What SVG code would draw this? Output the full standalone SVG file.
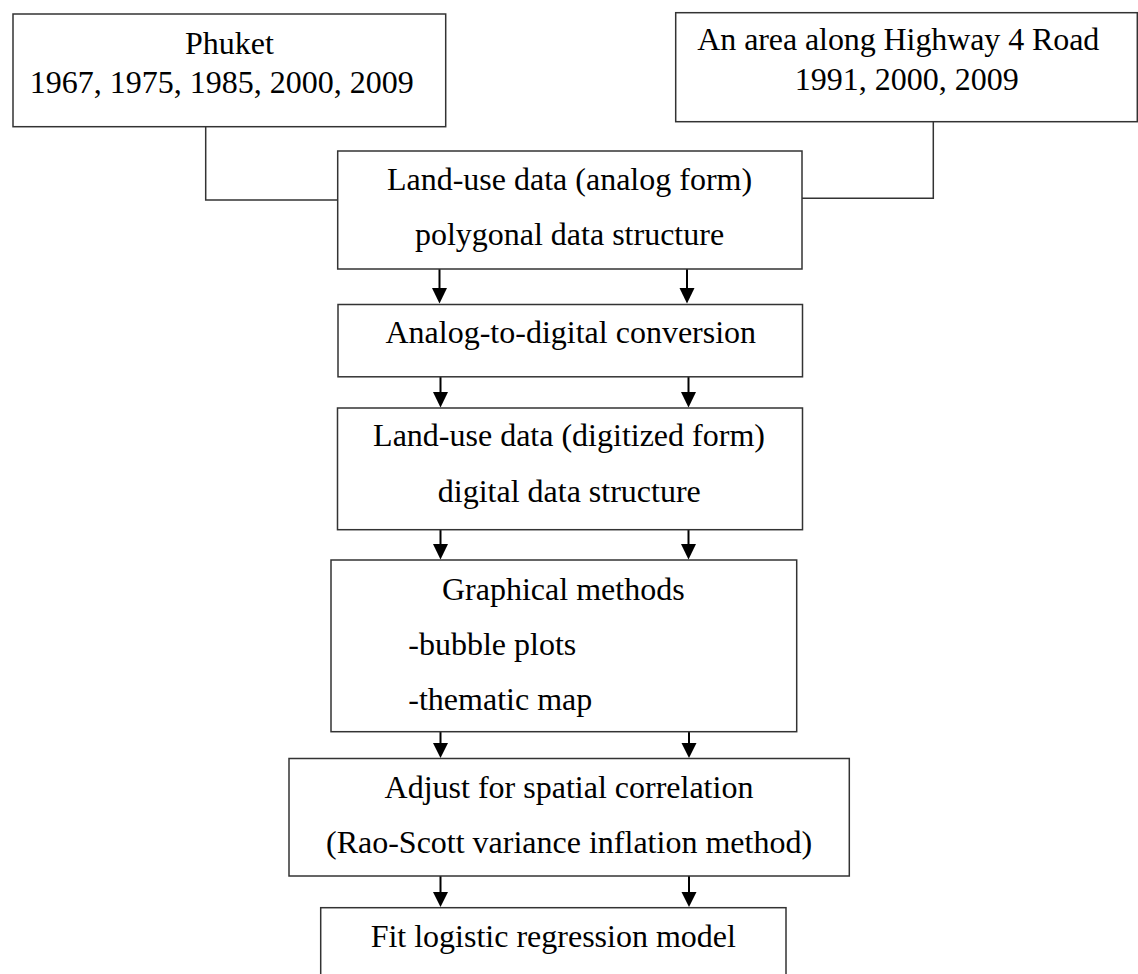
<svg xmlns="http://www.w3.org/2000/svg" width="1138" height="974" viewBox="0 0 1138 974">
<style>
.box{fill:#fff;stroke:#333;stroke-width:1.5}
.t{font-family:"Liberation Serif","Times New Roman",serif;font-size:32px;fill:#000}
.c{text-anchor:middle}
.link{fill:none;stroke:#333;stroke-width:1.5}
.arr{fill:none;stroke:#000;stroke-width:2;marker-end:url(#ah)}
</style>
<defs>
<marker id="ah" markerUnits="userSpaceOnUse" markerWidth="16" markerHeight="16" viewBox="0 0 16 16" refX="8" refY="16" orient="auto-start-reverse">
<path d="M0.5 0 L15.5 0 L8 16 Z" fill="#000" transform="rotate(-90 8 8)"/>
</marker>
</defs>
<rect width="1138" height="974" fill="#fff"/>
<g id="connectors">
<path class="link" d="M205.7 126.7 V200 H337.7"/>
<path class="link" d="M933.3 121.7 V198.3 H802"/>
<g id="arrows" fill="#000" stroke="#000" stroke-width="2">
<line x1="439.5" y1="269" x2="439.5" y2="289"/><polygon points="432,288 447,288 439.5,303.5" stroke="none"/>
<line x1="687" y1="269" x2="687" y2="289"/><polygon points="679.5,288 694.5,288 687,303.5" stroke="none"/>
<line x1="440.5" y1="377" x2="440.5" y2="393"/><polygon points="433,392 448,392 440.5,407.5" stroke="none"/>
<line x1="688.5" y1="377" x2="688.5" y2="393"/><polygon points="681,392 696,392 688.5,407.5" stroke="none"/>
<line x1="440.5" y1="530" x2="440.5" y2="545"/><polygon points="433,544 448,544 440.5,559.5" stroke="none"/>
<line x1="688.5" y1="530" x2="688.5" y2="545"/><polygon points="681,544 696,544 688.5,559.5" stroke="none"/>
<line x1="440.5" y1="732" x2="440.5" y2="744"/><polygon points="433,743 448,743 440.5,758" stroke="none"/>
<line x1="689" y1="732" x2="689" y2="744"/><polygon points="681.5,743 696.5,743 689,758" stroke="none"/>
<line x1="440.5" y1="876" x2="440.5" y2="893"/><polygon points="433,892 448,892 440.5,907" stroke="none"/>
<line x1="689" y1="876" x2="689" y2="893"/><polygon points="681.5,892 696.5,892 689,907" stroke="none"/>
</g>
</g>
<g id="phuket">
<rect class="box" x="13" y="14" width="432.7" height="112.7"/>
<text class="t c" x="229.4" y="54">Phuket</text>
<text class="t c" x="221.7" y="93">1967, 1975, 1985, 2000, 2009</text>
</g>
<g id="highway">
<rect class="box" x="675.7" y="12.7" width="461.6" height="109"/>
<text class="t" x="697.3" y="50" textLength="402" lengthAdjust="spacing">An area along Highway 4 Road</text>
<text class="t c" x="906.7" y="90">1991, 2000, 2009</text>
</g>
<g id="landuse-analog">
<rect class="box" x="337.7" y="151" width="464.3" height="118"/>
<text class="t c" x="569.5" y="190">Land-use data (analog form)</text>
<text class="t c" x="569.5" y="245">polygonal data structure</text>
</g>
<g id="a2d">
<rect class="box" x="338" y="304.5" width="464.5" height="72.3"/>
<text class="t c" x="570.8" y="343">Analog-to-digital conversion</text>
</g>
<g id="landuse-digital">
<rect class="box" x="337.5" y="408" width="465" height="121.7"/>
<text class="t c" x="569" y="446">Land-use data (digitized form)</text>
<text class="t c" x="569.3" y="501.7">digital data structure</text>
</g>
<g id="graphical">
<rect class="box" x="331" y="560" width="465.7" height="171.7"/>
<text class="t c" x="563.3" y="600">Graphical methods</text>
<text class="t" x="408.3" y="655">-bubble plots</text>
<text class="t" x="408.3" y="710">-thematic map</text>
</g>
<g id="adjust">
<rect class="box" x="289" y="758.5" width="560.3" height="117.5"/>
<text class="t c" x="569" y="798">Adjust for spatial correlation</text>
<text class="t c" x="569" y="853">(Rao-Scott variance inflation method)</text>
</g>
<g id="fit">
<rect class="box" x="320.7" y="907.7" width="465.3" height="80"/>
<text class="t c" x="553.3" y="946.7">Fit logistic regression model</text>
</g>
</svg>
